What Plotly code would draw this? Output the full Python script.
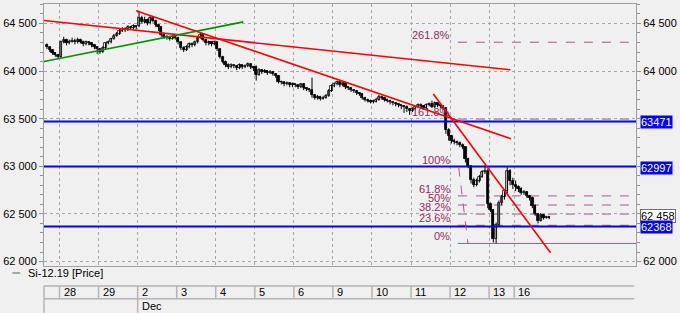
import plotly.graph_objects as go

# ---------------- data ----------------
day_labels = ["27", "28", "29", "2", "3", "4", "5", "6", "9", "10", "11", "12", "13", "16"]
day_bars = [5, 14, 14, 14, 14, 14, 14, 14, 14, 14, 14, 14, 9, 13]
month_label = "Dec"
month_first_day = "2"

opens = [64270, 64250, 64220, 64190, 64170,
         64150, 64300, 64330, 64290, 64310, 64320, 64300, 64330, 64310, 64280, 64300, 64290, 64270, 64250,
         64230, 64200, 64240, 64290, 64300, 64340, 64370, 64390, 64420, 64440, 64430, 64460, 64450, 64470,
         64470, 64560, 64520, 64540, 64500, 64560, 64530, 64480, 64460, 64380, 64360, 64350, 64340, 64360,
         64350, 64300, 64240, 64220, 64250, 64280, 64270, 64300, 64350, 64380, 64330, 64290, 64300, 64280,
         64300, 64230, 64150, 64100, 64060, 64040, 64060, 64050, 64030, 64060, 64040, 64050, 64070, 64040,
         64040, 63960, 64010, 63990, 64000, 63980, 63990, 63970, 63950, 63890, 63880, 63860, 63870, 63850,
         63860, 63850, 63830, 63860, 63820, 63810, 63800, 63750, 63720, 63730, 63710, 63720, 63740, 63790,
         63840, 63860, 63880, 63850, 63870, 63830, 63820, 63800, 63790, 63770, 63760, 63720, 63700, 63690,
         63680, 63680, 63700, 63730, 63720, 63700, 63690, 63670, 63660, 63650, 63640, 63630, 63620, 63600,
         63580, 63600, 63620, 63640, 63630, 63610, 63640, 63650, 63620, 63660, 63640, 63630, 63610, 63380,
         63320, 63270, 63250, 63240, 63220, 63200, 63080, 63000, 62860, 62800, 62850, 62890, 62940, 62950,
         62600, 62540, 62240, 62380, 62610, 62680, 62740, 62950, 62850,
         62800, 62780, 62760, 62720, 62730, 62690, 62670, 62580, 62500, 62430, 62490, 62460, 62470]

highs = [64290, 64260, 64230, 64200, 64180,
         64320, 64360, 64340, 64330, 64350, 64340, 64350, 64340, 64320, 64320, 64310, 64300, 64280, 64260,
         64240, 64260, 64300, 64320, 64350, 64390, 64410, 64440, 64460, 64460, 64480, 64470, 64490, 64480,
         64635, 64580, 64570, 64550, 64580, 64570, 64540, 64490, 64470, 64400, 64380, 64370, 64380, 64370,
         64360, 64310, 64260, 64270, 64300, 64300, 64320, 64370, 64400, 64390, 64340, 64320, 64310, 64320,
         64310, 64240, 64160, 64110, 64080, 64080, 64070, 64060, 64080, 64070, 64070, 64090, 64080, 64050,
         64060, 64030, 64020, 64020, 64010, 64010, 64000, 63980, 63960, 63900, 63890, 63890, 63880, 63880,
         63870, 63860, 63870, 63870, 63830, 63820, 63930, 63760, 63750, 63740, 63740, 63760, 63810, 63860,
         63880, 63900, 63890, 63880, 63880, 63840, 63830, 63810, 63800, 63780, 63770, 63730, 63710, 63700,
         63700, 63720, 63750, 63740, 63730, 63710, 63700, 63680, 63670, 63660, 63650, 63640, 63640, 63610,
         63620, 63640, 63660, 63660, 63640, 63660, 63670, 63690, 63680, 63670, 63650, 63640, 63620, 63400,
         63330, 63290, 63270, 63260, 63240, 63210, 63090, 63010, 62880, 62870, 62910, 62960, 63010, 62970,
         62620, 62550, 62410, 62640, 62700, 62760, 62990, 62970, 62880,
         62850, 62800, 62780, 62750, 62740, 62700, 62680, 62600, 62510, 62510, 62500, 62480, 62480]

lows = [64230, 64200, 64170, 64150, 64130,
        64140, 64290, 64270, 64280, 64300, 64280, 64290, 64290, 64260, 64270, 64270, 64250, 64230, 64180,
        64180, 64190, 64230, 64280, 64290, 64330, 64360, 64380, 64410, 64410, 64420, 64430, 64440, 64440,
        64460, 64500, 64500, 64480, 64490, 64510, 64460, 64420, 64360, 64340, 64330, 64320, 64330, 64330,
        64280, 64220, 64200, 64210, 64240, 64250, 64260, 64290, 64340, 64310, 64270, 64270, 64260, 64270,
        64210, 64130, 64080, 64040, 64020, 64030, 64030, 64010, 64020, 64020, 64030, 64040, 64020, 64000,
        63900, 63950, 63970, 63980, 63960, 63970, 63950, 63930, 63870, 63860, 63840, 63850, 63830, 63830,
        63830, 63810, 63820, 63800, 63790, 63780, 63720, 63700, 63700, 63690, 63700, 63710, 63730, 63780,
        63830, 63850, 63830, 63840, 63810, 63800, 63780, 63770, 63750, 63740, 63700, 63680, 63670, 63660,
        63660, 63670, 63690, 63700, 63680, 63670, 63650, 63640, 63630, 63620, 63600, 63560, 63570, 63540,
        63570, 63590, 63610, 63610, 63600, 63600, 63630, 63610, 63610, 63620, 63610, 63590, 63340, 63270,
        63240, 63230, 63220, 63200, 63180, 63040, 62980, 62820, 62780, 62790, 62830, 62880, 62920, 62560,
        62520, 62200, 62190, 62370, 62590, 62650, 62720, 62800, 62760,
        62740, 62730, 62700, 62700, 62670, 62640, 62560, 62480, 62400, 62420, 62440, 62450, 62445]

closes = [64250, 64220, 64190, 64170, 64150,
          64300, 64330, 64290, 64310, 64320, 64300, 64330, 64310, 64280, 64300, 64290, 64270, 64250, 64230,
          64200, 64240, 64290, 64300, 64340, 64370, 64390, 64420, 64440, 64430, 64460, 64450, 64470, 64460,
          64560, 64520, 64540, 64500, 64560, 64530, 64480, 64460, 64380, 64360, 64350, 64340, 64360, 64350,
          64300, 64240, 64220, 64250, 64280, 64270, 64300, 64350, 64380, 64330, 64290, 64300, 64280, 64300,
          64230, 64150, 64100, 64060, 64040, 64060, 64050, 64030, 64060, 64040, 64050, 64070, 64040, 64030,
          63960, 64010, 63990, 64000, 63980, 63990, 63970, 63950, 63890, 63880, 63860, 63870, 63850, 63860,
          63850, 63830, 63860, 63820, 63810, 63800, 63750, 63720, 63730, 63710, 63720, 63740, 63790, 63840,
          63860, 63880, 63850, 63870, 63830, 63820, 63800, 63790, 63770, 63760, 63720, 63700, 63690, 63680,
          63680, 63700, 63730, 63720, 63700, 63690, 63670, 63660, 63650, 63640, 63630, 63620, 63600, 63580,
          63600, 63620, 63640, 63630, 63610, 63640, 63650, 63620, 63660, 63640, 63630, 63610, 63380, 63320,
          63270, 63250, 63240, 63220, 63200, 63080, 63000, 62860, 62800, 62850, 62890, 62940, 62950, 62600,
          62540, 62240, 62380, 62610, 62680, 62740, 62950, 62850, 62800,
          62780, 62760, 62720, 62730, 62690, 62670, 62580, 62500, 62430, 62490, 62460, 62470, 62458]

price_ticks = [62000, 62500, 63000, 63500, 64000, 64500]
price_tick_labels = ["62 000", "62 500", "63 000", "63 500", "64 000", "64 500"]
right_ticks = [62000, 64000, 64500]
right_tick_labels = ["62 000", "64 000", "64 500"]

blue_levels = [63471, 62997, 62368]
blue_labels = ["63471", "62997", "62368"]
last_price = 62458
last_price_label = "62 458"

fib_low = 62190
fib_high = 62997
fib_ratios = [0.0, 0.236, 0.382, 0.5, 0.618, 1.0, 1.618, 2.618]
fib_labels = ["0%", "23.6%", "38.2%", "50%", "61.8%", "100%", "161.8%", "261.8%"]
fib_start_bar = 147.3
fib_label_bar = 145.1
fib_diag = [(147.6, 62985), (150.9, 62190)]

red_lines = [[(-1.065, 64531), (166.1, 64013)],
             [(31.94, 64634), (166.3, 63289)],
             [(138.5, 63759), (180.5, 62092)]]
green_lines = [[(-1.065, 64100), (70.4, 64516)]]

series_name = "Si-12.19 [Price]"

# ---------------- figure ----------------
X_RANGE = [-1.065, 211.14]
Y_RANGE = [61953, 64704]
W, H = 680, 313
ML, MR, MT, MB = 40, 42, 3, 47
PW, PH = W - ML - MR, H - MT - MB

def px_paper(px):
    return (px - ML) / PW

def py_paper(py):
    return (H - MB - py) / PH

FONT = "Liberation Sans, Arial, sans-serif"
GRID = "#a8a8a8"
FRAME = "#a0a0a0"
FIBC = "#a8588a"
FIBT = "#8e2c62"
MIN_BODY = 8

bars = list(range(len(closes)))

fig = go.Figure()

# wicks
wx, wy = [], []
for i, h, l in zip(bars, highs, lows):
    wx += [i, i, None]
    wy += [l, h, None]
fig.add_trace(go.Scatter(x=wx, y=wy, mode="lines", line=dict(color="#000000", width=1),
                         hoverinfo="skip", showlegend=False))

# bodies
for up in (True, False):
    xs, hs, bs = [], [], []
    for i, o, c in zip(bars, opens, closes):
        if (c >= o) == up:
            xs.append(i)
            hs.append(max(abs(c - o), MIN_BODY))
            bs.append(min(o, c))
    fig.add_trace(go.Bar(x=xs, y=hs, base=bs, width=0.8,
                         marker=dict(color="#ffffff" if up else "#000000",
                                     line=dict(color="#000000", width=0.8)),
                         hoverinfo="skip", showlegend=False))

# invisible trace for right-hand axis
fig.add_trace(go.Scatter(x=[bars[0]], y=[closes[0]], yaxis="y2", mode="markers",
                         marker=dict(opacity=0), showlegend=False, hoverinfo="skip"))

# day boundaries
bounds = []
acc = 0
for n in day_bars[:-1]:
    acc += n
    bounds.append(acc - 0.5)

shapes = []
for lv in blue_levels:
    shapes.append(dict(type="line", xref="paper", yref="y", x0=0, x1=1, y0=lv, y1=lv,
                       line=dict(color="#0000ff", width=2)))
for r in fib_ratios:
    lv = fib_low + r * (fib_high - fib_low)
    dash = "solid" if r in (0.0, 1.0) else "dash"
    shapes.append(dict(type="line", xref="x", yref="y", x0=fib_start_bar, x1=X_RANGE[1], y0=lv, y1=lv,
                       line=dict(color=FIBC, width=1, dash=dash), layer="below"))
shapes.append(dict(type="line", xref="x", yref="y", x0=fib_diag[0][0], y0=fib_diag[0][1],
                   x1=fib_diag[1][0], y1=fib_diag[1][1], line=dict(color=FIBC, width=1, dash="dash")))
for (a, b) in red_lines:
    shapes.append(dict(type="line", xref="x", yref="y", x0=a[0], y0=a[1], x1=b[0], y1=b[1],
                       line=dict(color="#ff0000", width=1.6)))
for (a, b) in green_lines:
    shapes.append(dict(type="line", xref="x", yref="y", x0=a[0], y0=a[1], x1=b[0], y1=b[1],
                       line=dict(color="#009000", width=1.6)))

# bottom table
TCOL = "#b4b4b4"
y_t0, y_t1, y_t2 = py_paper(286), py_paper(299), py_paper(313)
for yy in (y_t0, y_t1):
    shapes.append(dict(type="line", xref="paper", yref="paper", x0=0, x1=0.997, y0=yy, y1=yy,
                       line=dict(color=TCOL, width=1.5)))
shapes.append(dict(type="line", xref="paper", yref="paper", x0=0, x1=0, y0=y_t0, y1=y_t2,
                   line=dict(color=TCOL, width=1.5)))
for bx in bounds:
    shapes.append(dict(type="line", xref="x", yref="paper", x0=bx, x1=bx, y0=y_t0, y1=y_t1,
                       line=dict(color=TCOL, width=1.5)))
month_idx = day_labels.index(month_first_day)
mx = bounds[month_idx - 1]
shapes.append(dict(type="line", xref="x", yref="paper", x0=mx, x1=mx, y0=y_t1, y1=y_t2,
                   line=dict(color=TCOL, width=1.5)))
shapes.append(dict(type="line", xref="paper", yref="paper", x0=px_paper(8), x1=px_paper(16),
                   y0=py_paper(273), y1=py_paper(273), line=dict(color="#606060", width=1)))

annotations = []
for i, lab in enumerate(day_labels[1:]):
    annotations.append(dict(text=lab, xref="x", yref="paper", x=bounds[i], y=py_paper(292.5),
                            xanchor="left", yanchor="middle", xshift=2, showarrow=False,
                            font=dict(family=FONT, size=11, color="#000000")))
annotations.append(dict(text=month_label, xref="x", yref="paper", x=mx, y=py_paper(306),
                        xanchor="left", yanchor="middle", xshift=2, showarrow=False,
                        font=dict(family=FONT, size=11, color="#000000")))
annotations.append(dict(text=series_name, xref="paper", yref="paper", x=px_paper(22), y=py_paper(273),
                        xanchor="left", yanchor="middle", showarrow=False,
                        font=dict(family=FONT, size=11, color="#000000")))
for r, lab in zip(fib_ratios, fib_labels):
    lv = fib_low + r * (fib_high - fib_low)
    annotations.append(dict(text=lab, xref="x", yref="y", x=fib_label_bar, y=lv,
                            xanchor="right", yanchor="bottom", yshift=-1, showarrow=False,
                            font=dict(family=FONT, size=11, color=FIBT)))
annotations.append(dict(text=last_price_label, xref="paper", yref="y", x=1, y=last_price,
                        xanchor="left", yanchor="middle", xshift=4, yshift=2, showarrow=False,
                        bgcolor="#ffffff", bordercolor="#707070", borderwidth=1, borderpad=0,
                        font=dict(family=FONT, size=11, color="#000000")))
for lv, lab in zip(blue_levels, blue_labels):
    annotations.append(dict(text=lab, xref="paper", yref="y", x=1, y=lv,
                            xanchor="left", yanchor="middle", xshift=4, yshift=-1, showarrow=False,
                            bgcolor="#0000ff", borderpad=0,
                            font=dict(family=FONT, size=11, color="#ffffff")))

yaxis_common = dict(
    range=Y_RANGE,
    ticks="outside", ticklen=4, tickcolor="#909090",
    minor=dict(dtick=100, ticks="outside", ticklen=3, tickcolor="#909090", showgrid=False),
    tickfont=dict(family=FONT, size=11, color="#000000"),
    showline=True, linecolor=FRAME, linewidth=1, zeroline=False,
)

fig.update_layout(
    width=W, height=H,
    margin=dict(l=ML, r=MR, t=MT, b=MB, pad=0),
    paper_bgcolor="#f0f0f0", plot_bgcolor="#f0f0f0",
    showlegend=False, barmode="overlay", bargap=0,
    xaxis=dict(range=X_RANGE, tickvals=bounds, showticklabels=False, ticks="",
               showgrid=True, gridcolor=GRID, griddash="dot", gridwidth=1,
               showline=True, linecolor=FRAME, mirror=True, zeroline=False, fixedrange=True),
    yaxis=dict(**yaxis_common, tickvals=price_ticks, ticktext=price_tick_labels,
               side="left", showgrid=True, gridcolor=GRID, griddash="dot", gridwidth=1, mirror=True),
    yaxis2=dict(**yaxis_common, tickvals=right_ticks, ticktext=right_tick_labels,
                side="right", overlaying="y", showgrid=False),
    shapes=shapes,
    annotations=annotations,
)

fig.write_html("out.html")
